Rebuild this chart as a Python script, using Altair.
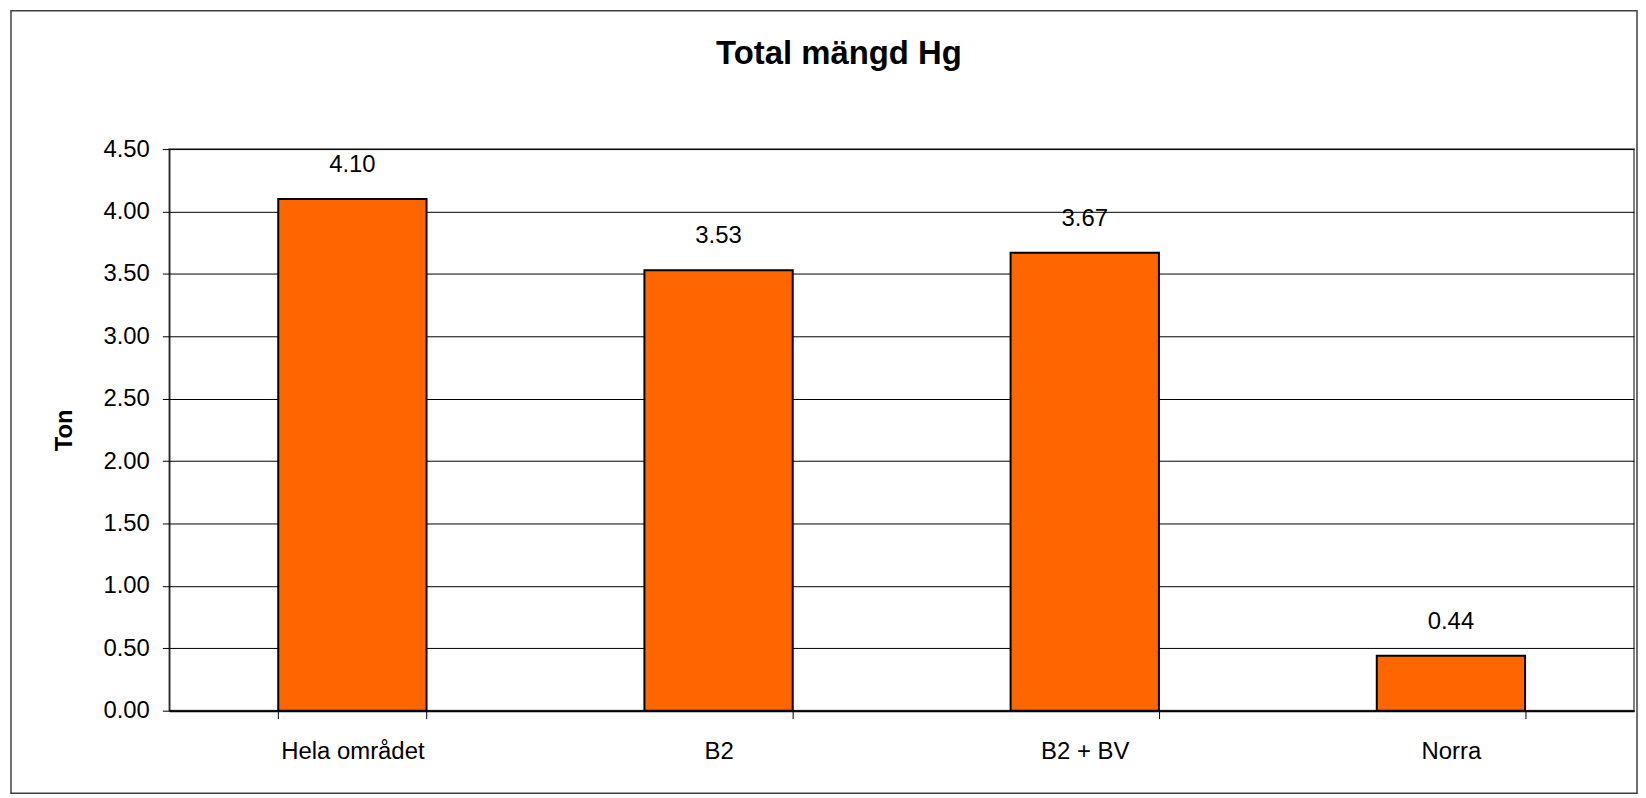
import altair as alt
import pandas as pd

categories = ["Hela området", "B2", "B2 + BV", "Norra"]
values = [4.10, 3.53, 3.67, 0.44]
y_ticks = [0, 0.5, 1.0, 1.5, 2.0, 2.5, 3.0, 3.5, 4.0, 4.5]

df = pd.DataFrame({"cat": categories, "val": values})
FONT = "Liberation Sans"
W, H = 1471, 564

base = alt.Chart(df)

bars = base.mark_bar(color="#FF6600", stroke="black", strokeWidth=2).encode(
    x=alt.X("cat:N", sort=categories, title=None,
            scale=alt.Scale(paddingInner=0.595, paddingOuter=0.2975),
            axis=alt.Axis(labelAngle=0, tickBand="extent", tickSize=8,
                          tickColor="black", domainColor="black", domainWidth=2,
                          labelFontSize=24, labelFont=FONT, labelColor="black",
                          labelPadding=21, grid=False)),
    y=alt.Y("val:Q", title="Ton",
            scale=alt.Scale(domain=[0, 4.5], nice=False),
            axis=alt.Axis(values=y_ticks, format=".2f", tickSize=7,
                          tickColor="black", domainColor="black",
                          labelFontSize=24, labelFont=FONT, labelColor="black",
                          labelPadding=13, grid=True, gridColor="black",
                          gridWidth=1, titleFont=FONT, titleFontSize=24,
                          titleFontWeight="bold", titleColor="black",
                          titleAngle=270, titleX=-105, titleY=H / 2,
                          titleAlign="center", titleBaseline="middle")),
)

labels = base.mark_text(fontSize=24, font=FONT, color="black",
                        baseline="bottom", dy=-22).encode(
    x=alt.X("cat:N", sort=categories),
    y="val:Q",
    text=alt.Text("val:Q", format=".2f"),
)

frame = alt.Chart(pd.DataFrame({"f": [0]})).mark_rect(
    fill=None, stroke="#404040", strokeWidth=1.5, clip=False
).encode(
    x=alt.value(-159), x2=alt.value(1474),
    y=alt.value(-139), y2=alt.value(647),
)

chart = alt.layer(frame, bars, labels).properties(
    width=W, height=H,
    autosize=alt.AutoSizeParams(type="none"),
    padding={"left": 162, "top": 140, "right": 4, "bottom": 86},
    background="white",
    title=alt.TitleParams("Total mängd Hg", font=FONT, fontSize=33,
                          fontWeight="bold", color="black",
                          anchor="middle", dx=-63, offset=0, dy=87,
                          baseline="alphabetic"),
).configure_view(stroke="#808080", strokeWidth=2)

chart.save("out.html", embed_options={"renderer": "svg", "actions": False})
